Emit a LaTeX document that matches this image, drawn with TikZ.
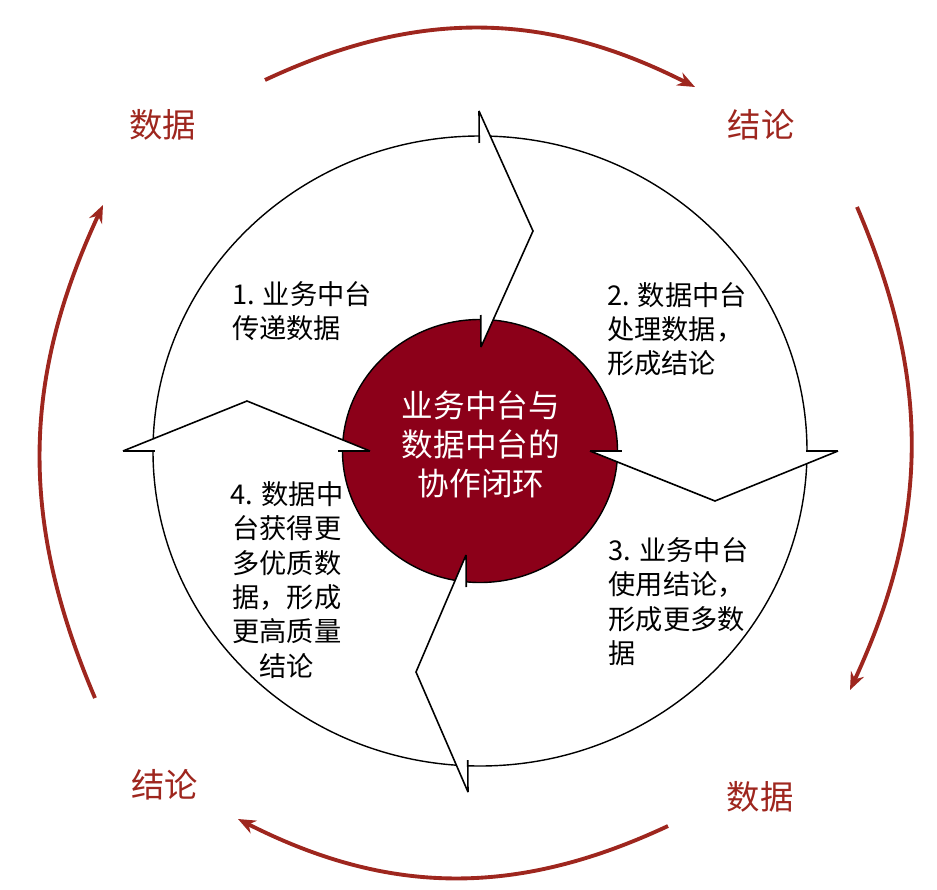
\documentclass[tikz,border=0pt]{standalone}
\usepackage{fontspec}
\usepackage{tikz}
\usetikzlibrary{arrows.meta,calc}
\newfontfamily\cjk{Noto Sans CJK SC}
\definecolor{hubred}{RGB}{140,0,25}
\definecolor{arcred}{RGB}{158,38,30}

\tikzset{
  ring/.style={draw=black,line width=0.8pt,fill=white},
  hub/.style={draw=black,line width=0.8pt,fill=hubred},
  chevedge/.style={draw=black,line width=0.9pt,line join=miter},
  cycarrow/.style={arcred,line width=2.2pt,-{Stealth[length=10pt,width=8pt]}},
  lbl/.style={font=\cjk\fontsize{19}{22}\selectfont,text=arcred,inner sep=0pt},
  stage/.style={font=\cjk\fontsize{15.5}{19.5}\selectfont,inner sep=0pt},
}

\begin{document}
\begin{tikzpicture}
  \useasboundingbox (-9.6,-8.76) rectangle (9.14,9.02);

  % ring and hub
  \draw[ring] (0,0) ellipse [x radius=6.54,y radius=6.30];
  \draw[hub] (0,0) ellipse [x radius=2.75,y radius=2.63];

  % chevron ends: outer, apex, inner
  \coordinate (c1o) at (-0.02,6.80);  \coordinate (c1a) at (1.06,4.40);   \coordinate (c1i) at (0.02,2.08);
  \coordinate (c2i) at (2.20,0);      \coordinate (c2a) at (4.70,-1.00);  \coordinate (c2o) at (7.16,0);
  \coordinate (c3i) at (-0.28,-2.08); \coordinate (c3a) at (-1.28,-4.42); \coordinate (c3o) at (-0.24,-6.82);
  \coordinate (c4o) at (-7.14,0);     \coordinate (c4a) at (-4.66,1.00);  \coordinate (c4i) at (-2.20,0);

  \foreach \a/\b/\c in {c1o/c1a/c1i,c2i/c2a/c2o,c3i/c3a/c3o,c4o/c4a/c4i}{
    \fill[white] (\a) -- (\b) -- (\c) -- cycle;
    \draw[chevedge] (\a) -- (\b) -- (\c);
    \draw[chevedge] (\a) -- ($(\a)!0.64cm!(\c)$);
    \draw[chevedge] (\c) -- ($(\c)!0.64cm!(\a)$);
  }

  % texts
  \node[font=\cjk\fontsize{18}{22.2}\selectfont,text=white,align=center,inner sep=0pt] (hubtxt) at (0.02,0.14)
    {业务中台与\\数据中台的\\协作闭环};
  \node[stage,align=left] (s1) at (-3.56,2.79) {1. 业务中台\\传递数据};
  \node[stage,align=left] (s2) at (3.94,2.44) {2. 数据中台\\处理数据，\\形成结论};
  \node[stage,align=left] (s3) at (3.97,-3.01) {3. 业务中台\\使用结论，\\形成更多数\\据};
  \node[stage,align=center] (s4) at (-3.86,-2.58) {4. 数据中\\台获得更\\多优质数\\据，形成\\更高质量\\结论};

  % outer labels
  \node[lbl] (dataTL) at (-6.34,6.52) {数据};
  \node[lbl] (concTR) at (5.62,6.52) {结论};
  \node[lbl] (concBL) at (-6.30,-6.68) {结论};
  \node[lbl] (dataBR) at (5.60,-6.92) {数据};

  % outer cycle
  \coordinate (a1s) at (-4.30,7.42);  \coordinate (a1e) at (4.30,7.28);
  \coordinate (a2s) at (7.54,4.88);   \coordinate (a2e) at (7.40,-4.78);
  \coordinate (a3s) at (3.76,-7.50);  \coordinate (a3e) at (-4.84,-7.36);
  \coordinate (a4s) at (-7.70,-4.94); \coordinate (a4e) at (-7.54,4.92);
  \draw[cycarrow] (a1s) to[bend left=26] (a1e);
  \draw[cycarrow] (a2s) to[bend left=24] (a2e);
  \draw[cycarrow] (a3s) to[bend left=26] (a3e);
  \draw[cycarrow] (a4s) to[bend left=24] (a4e);
\end{tikzpicture}
\end{document}
